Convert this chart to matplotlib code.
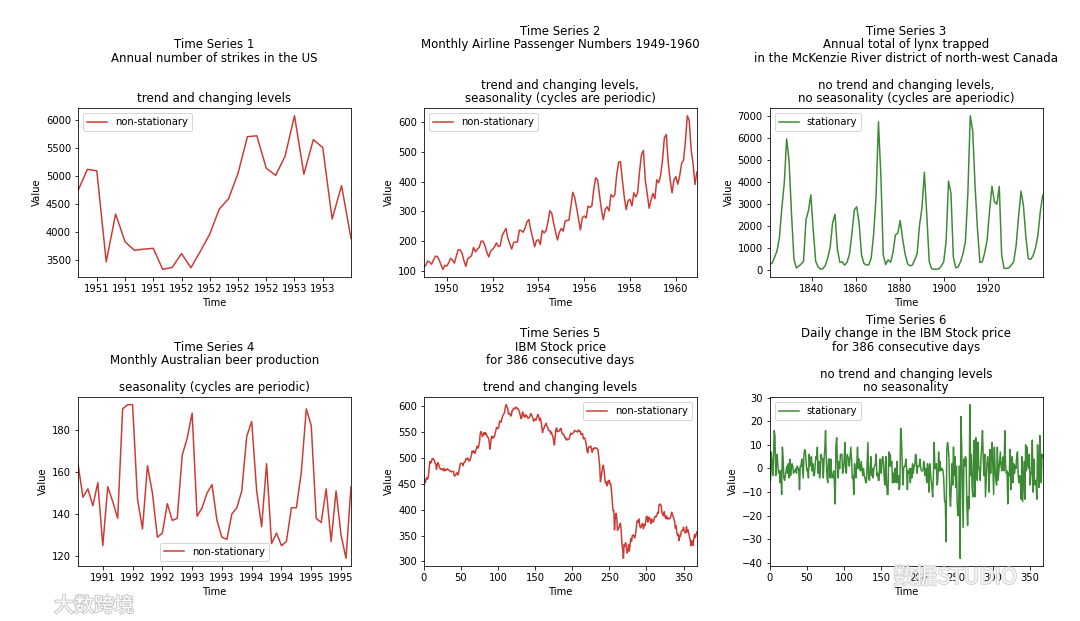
import numpy as np
import matplotlib.pyplot as plt
import matplotlib.patheffects as pe

# Time Series 1: annual number of strikes in the US
strikes = [4737, 5117, 5091, 3468, 4320, 3825, 3673, 3694, 3708, 3333,
           3367, 3614, 3362, 3655, 3963, 4405, 4595, 5045, 5700, 5716,
           5138, 5010, 5353, 6074, 5031, 5648, 5506, 4230, 4827, 3885]
strikes_ticks = [2, 5, 8, 11, 14, 17, 20, 23, 26]
strikes_labels = ['1951', '1951', '1951', '1952', '1952', '1952', '1952', '1953', '1953']

# Time Series 2: monthly airline passengers 1949-1960
airline = [112, 118, 132, 129, 121, 135, 148, 148, 136, 119, 104, 118,
           115, 126, 141, 135, 125, 149, 170, 170, 158, 133, 114, 140,
           145, 150, 178, 163, 172, 178, 199, 199, 184, 162, 146, 166,
           171, 180, 193, 181, 183, 218, 230, 242, 209, 191, 172, 194,
           196, 196, 236, 235, 229, 243, 264, 272, 237, 211, 180, 201,
           204, 188, 235, 227, 234, 264, 302, 293, 259, 229, 203, 229,
           242, 233, 267, 269, 270, 315, 364, 347, 312, 274, 237, 278,
           284, 277, 317, 313, 318, 374, 413, 405, 355, 306, 271, 306,
           315, 301, 356, 348, 355, 422, 465, 467, 404, 347, 305, 336,
           340, 318, 362, 348, 363, 435, 491, 505, 404, 359, 310, 337,
           360, 342, 406, 396, 420, 472, 548, 559, 463, 407, 362, 405,
           417, 391, 419, 461, 472, 535, 622, 606, 508, 461, 390, 432]
airline_start = 1949
airline_ticks = [1950, 1952, 1954, 1956, 1958, 1960]

# Time Series 3: lynx trapped
lynx = [269, 321, 585, 871, 1475, 2821, 3928, 5943, 4950, 2577,
        523, 98, 184, 279, 409, 2285, 2685, 3409, 1824, 409,
        151, 45, 68, 213, 546, 1033, 2129, 2536, 957, 361,
        377, 225, 360, 731, 1638, 2725, 2871, 2119, 684, 299,
        236, 245, 552, 1623, 3311, 6721, 4254, 687, 255, 473,
        358, 784, 1594, 1676, 2251, 1426, 756, 299, 201, 229,
        469, 736, 2042, 2811, 4431, 2511, 389, 73, 39, 49,
        59, 188, 377, 1292, 4031, 3495, 587, 105, 153, 387,
        758, 1307, 3465, 6991, 6313, 3794, 1836, 345, 382, 808,
        1388, 2713, 3800, 3091, 2985, 3790, 674, 81, 80, 108,
        229, 399, 1132, 2432, 3574, 2935, 1537, 529, 485, 662,
        1000, 1590, 2657, 3396]
lynx_start = 1821
lynx_step_days = 400
lynx_ticks = [1840, 1860, 1880, 1900, 1920]

# Time Series 4: monthly Australian beer production
beer = [164, 148, 152, 144, 155, 125, 153, 146, 138, 190,
        192, 192, 147, 133, 163, 150, 129, 131, 145, 137,
        138, 168, 176, 188, 139, 143, 150, 154, 137, 129,
        128, 140, 143, 151, 177, 184, 151, 134, 164, 126,
        131, 125, 127, 143, 143, 160, 190, 182, 138, 136,
        152, 127, 151, 130, 119, 153]
beer_ticks = [5, 11, 17, 23, 29, 35, 41, 47, 53]
beer_labels = ['1991', '1992', '1992', '1993', '1993', '1994', '1994', '1995', '1995']

# Time Series 5: IBM stock price
ibm = [460, 457, 452, 459, 462, 459, 463, 479, 493, 490, 492, 498, 499, 497, 496, 490,
       489, 478, 487, 491, 487, 482, 479, 478, 479, 477, 479, 475, 479, 476, 476, 478,
       479, 477, 476, 475, 475, 473, 474, 474, 474, 465, 466, 467, 471, 471, 467, 473,
       481, 488, 490, 489, 489, 485, 491, 492, 494, 499, 498, 500, 497, 494, 495, 500,
       504, 513, 511, 514, 510, 509, 515, 519, 523, 519, 523, 531, 547, 551, 547, 541,
       545, 549, 545, 549, 547, 543, 540, 539, 532, 517, 527, 540, 542, 538, 541, 541,
       547, 553, 559, 557, 557, 560, 571, 571, 569, 575, 580, 584, 585, 590, 599, 603,
       599, 596, 585, 587, 585, 581, 583, 592, 592, 596, 596, 595, 598, 598, 595, 595,
       592, 588, 582, 576, 578, 589, 585, 580, 579, 584, 581, 581, 577, 577, 578, 580,
       586, 583, 581, 576, 571, 575, 575, 573, 577, 582, 584, 579, 572, 577, 571, 560,
       549, 556, 557, 563, 564, 567, 561, 559, 553, 553, 553, 547, 550, 544, 541, 532,
       525, 542, 555, 558, 551, 551, 552, 553, 557, 557, 548, 547, 545, 545, 539, 539,
       535, 537, 535, 536, 537, 543, 548, 546, 547, 548, 549, 553, 553, 552, 551, 550,
       553, 554, 551, 551, 545, 547, 547, 537, 539, 538, 533, 525, 513, 510, 521, 521,
       521, 523, 516, 511, 518, 517, 520, 519, 519, 519, 518, 513, 499, 485, 454, 462,
       473, 482, 486, 475, 459, 451, 453, 446, 455, 452, 457, 449, 450, 435, 415, 398,
       399, 361, 383, 393, 385, 360, 364, 365, 370, 374, 359, 335, 323, 306, 333, 330,
       336, 328, 316, 320, 332, 320, 333, 344, 339, 350, 351, 350, 345, 350, 359, 375,
       379, 376, 382, 370, 365, 367, 372, 373, 363, 371, 369, 376, 387, 387, 376, 385,
       385, 380, 373, 382, 377, 376, 379, 386, 387, 386, 389, 394, 393, 409, 411, 409,
       408, 393, 391, 388, 396, 387, 383, 388, 382, 384, 382, 383, 383, 388, 395, 392,
       386, 383, 377, 364, 369, 355, 350, 353, 340, 350, 349, 358, 360, 360, 366, 359,
       356, 355, 367, 357, 361, 355, 348, 343, 330, 340, 339, 331, 345, 352, 346, 352,
       357]

# Time Series 6: daily change of the IBM price
ibm_change = np.diff(ibm)

RED = '#cd3a34'
GREEN = '#3d8a35'

fig, axes = plt.subplots(2, 3, figsize=(15, 8.625), dpi=72)
fig.subplots_adjust(left=0.0722, right=0.9655, top=0.826, bottom=0.0886,
                    wspace=0.267, hspace=0.71)


def finish(ax, title, loc):
    ax.set_title(title, fontsize=11.7, linespacing=1.04)
    ax.set_xlabel('Time')
    ax.set_ylabel('Value')
    ax.legend(loc=loc)


# 1
ax = axes[0, 0]
x = np.arange(len(strikes))
ax.plot(x, strikes, color=RED, label='non-stationary')
ax.set_xlim(x[0], x[-1])
ax.set_xticks(strikes_ticks)
ax.set_xticklabels(strikes_labels)
finish(ax, 'Time Series 1\nAnnual number of strikes in the US\n\n\ntrend and changing levels',
       'upper left')

# 2
ax = axes[0, 1]
x = airline_start + np.arange(len(airline)) / 12
ax.plot(x, airline, color=RED, label='non-stationary')
ax.set_xlim(x[0], x[-1])
ax.set_xticks(airline_ticks)
finish(ax, 'Time Series 2\nMonthly Airline Passenger Numbers 1949-1960\n\n\n'
       'trend and changing levels,\nseasonality (cycles are periodic)', 'upper left')

# 3
ax = axes[0, 2]
x = lynx_start + np.arange(len(lynx)) * lynx_step_days / 365.25
ax.plot(x, lynx, color=GREEN, label='stationary')
ax.set_xlim(x[0], x[-1])
ax.set_xticks(lynx_ticks)
finish(ax, 'Time Series 3\nAnnual total of lynx trapped\n'
       'in the McKenzie River district of north-west Canada\n\n'
       'no trend and changing levels,\nno seasonality (cycles are aperiodic)', 'upper left')

# 4
ax = axes[1, 0]
x = np.arange(len(beer))
ax.plot(x, beer, color=RED, label='non-stationary')
ax.set_xlim(x[0], x[-1])
ax.set_xticks(beer_ticks)
ax.set_xticklabels(beer_labels)
finish(ax, 'Time Series 4\nMonthly Australian beer production\n\n'
       'seasonality (cycles are periodic)', 'lower center')

# 5
ax = axes[1, 1]
x = np.arange(len(ibm))
ax.plot(x, ibm, color=RED, label='non-stationary')
ax.set_xlim(x[0], x[-1])
finish(ax, 'Time Series 5\nIBM Stock price\nfor 386 consecutive days\n\n'
       'trend and changing levels', 'upper right')

# 6
ax = axes[1, 2]
x = np.arange(len(ibm_change))
ax.plot(x, ibm_change, color=GREEN, label='stationary')
ax.set_xlim(x[0], x[-1])
finish(ax, 'Time Series 6\nDaily change in the IBM Stock price\nfor 386 consecutive days\n\n'
       'no trend and changing levels\nno seasonality', 'upper left')

# watermarks
halo = [pe.withStroke(linewidth=2, foreground='#c8c8c8')]
fig.text(0.05, 0.015, '大数跨境', fontsize=20, color='white',
         family=['Noto Sans CJK SC', 'DejaVu Sans'], path_effects=halo)
fig.text(0.827, 0.06, '数据STUDIO', fontsize=22, color='white', alpha=0.8,
         family=['Noto Sans CJK SC', 'DejaVu Sans'], path_effects=halo)

fig.savefig('out.png', dpi=72)
